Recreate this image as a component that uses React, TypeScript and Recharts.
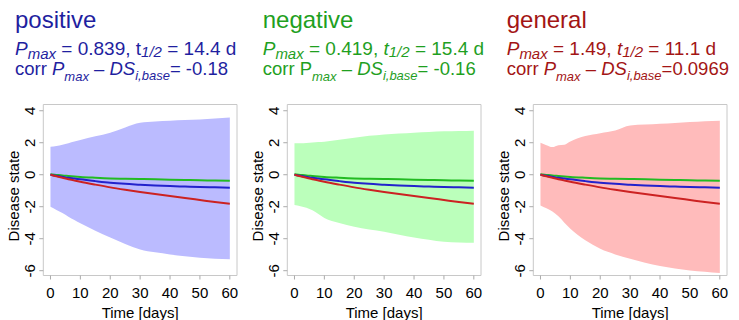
import React from "react";
import { ComposedChart, Area, Line, XAxis, YAxis, ReferenceArea, Label } from "recharts";

// shared time grid (days)
const days = [0, 2, 4, 6, 8, 10, 15, 20, 25, 30, 35, 40, 45, 50, 55, 60];

// mean trajectories, same in every panel
const greenLine = [0.03, -0.01, -0.05, -0.08, -0.11, -0.14, -0.19, -0.23, -0.25, -0.27, -0.29, -0.31, -0.33, -0.35, -0.36, -0.38];
const blueLine = [0, -0.07, -0.13, -0.19, -0.24, -0.29, -0.4, -0.5, -0.57, -0.62, -0.67, -0.71, -0.74, -0.77, -0.79, -0.81];
const redLine = [0, -0.1, -0.19, -0.28, -0.36, -0.44, -0.62, -0.79, -0.94, -1.08, -1.21, -1.33, -1.46, -1.58, -1.7, -1.81];

// bands
const positiveUpper = [1.75, 1.8, 1.88, 1.97, 2.07, 2.17, 2.4, 2.63, 2.96, 3.25, 3.33, 3.38, 3.42, 3.46, 3.52, 3.58];
const positiveLower = [-2.0, -2.2, -2.4, -2.62, -2.83, -3.04, -3.5, -3.92, -4.33, -4.67, -4.85, -4.98, -5.09, -5.19, -5.25, -5.29];
const negativeUpper = [1.96, 1.97, 1.99, 2.01, 2.04, 2.06, 2.18, 2.31, 2.43, 2.52, 2.58, 2.63, 2.67, 2.71, 2.73, 2.75];
const negativeLower = [-1.9, -1.97, -2.06, -2.22, -2.45, -2.7, -3.02, -3.25, -3.42, -3.56, -3.75, -3.92, -4.06, -4.19, -4.23, -4.25];
const generalUpper = [2.0, 1.85, 1.73, 1.85, 1.88, 2.08, 2.42, 2.6, 2.77, 3.08, 3.14, 3.19, 3.24, 3.29, 3.34, 3.38];
const generalLower = [-1.92, -2.1, -2.3, -2.6, -3.0, -3.38, -4.1, -4.63, -4.98, -5.25, -5.5, -5.71, -5.86, -5.98, -6.07, -6.15];

const xTicks = [0, 10, 20, 30, 40, 50, 60];
const yTicks = [-6, -4, -2, 0, 2, 4];

const FONT = "'Liberation Sans', Arial, Helvetica, sans-serif";
const X_DOMAIN: [number, number] = [-2.4, 62.4];
const Y_DOMAIN: [number, number] = [-6.3, 4.39];

const YTick = ({ x, y, payload }: any) => (
    <text x={x} y={y} transform={`rotate(-90 ${x} ${y})`} textAnchor="middle" fontSize={15} fill="#000" fontFamily={FONT}>
        {payload.value}
    </text>
);

function Panel({ left, upper, lower, band }: { left: number; upper: number[]; lower: number[]; band: string }) {
    const rows = days.map((d, i) => ({
        day: d,
        range: [lower[i], upper[i]],
        green: greenLine[i],
        blue: blueLine[i],
        red: redLine[i],
    }));

    return (
        <div style={{ position: "absolute", left, top: 0 }}>
            <ComposedChart width={245} height={320} data={rows} margin={{ top: 104.5, right: 8, bottom: 0, left: 0 }}>
                <XAxis
                    type="number"
                    dataKey="day"
                    domain={X_DOMAIN}
                    ticks={xTicks}
                    interval={0}
                    allowDataOverflow
                    height={44.5}
                    axisLine={false}
                    tickSize={4}
                    tickMargin={8}
                    tickLine={{ stroke: "#aaa" }}
                    tick={{ fontSize: 15, fill: "#000", fontFamily: FONT }}
                >
                    <Label
                        content={({ viewBox }: any) => (
                            <text x={viewBox.x + viewBox.width / 2} y={viewBox.y + 42} textAnchor="middle" fontSize={15} fontFamily={FONT} fill="#000">
                                Time [days]
                            </text>
                        )}
                    />
                </XAxis>
                <YAxis
                    type="number"
                    domain={Y_DOMAIN}
                    ticks={yTicks}
                    interval={0}
                    allowDataOverflow
                    width={43.3}
                    axisLine={false}
                    tickSize={4}
                    tickMargin={4}
                    tickLine={{ stroke: "#aaa" }}
                    tick={<YTick />}
                >
                    <Label
                        content={({ viewBox }: any) => {
                            const x = viewBox.x + 19;
                            const y = viewBox.y + viewBox.height / 2 + 6;
                            return (
                                <text x={x} y={y} transform={`rotate(-90 ${x} ${y})`} textAnchor="middle" fontSize={15} fontFamily={FONT} fill="#000">
                                    Disease state
                                </text>
                            );
                        }}
                    />
                </YAxis>
                <Area type="monotone" dataKey="range" fill={band} fillOpacity={1} stroke="none" isAnimationActive={false} dot={false} activeDot={false} />
                <Line type="monotone" dataKey="green" stroke="#22bb22" strokeWidth={2} dot={false} isAnimationActive={false} />
                <Line type="monotone" dataKey="blue" stroke="#2222cc" strokeWidth={2} dot={false} isAnimationActive={false} />
                <Line type="monotone" dataKey="red" stroke="#cc2222" strokeWidth={2} dot={false} isAnimationActive={false} />
                <ReferenceArea x1={X_DOMAIN[0]} x2={X_DOMAIN[1]} y1={Y_DOMAIN[0]} y2={Y_DOMAIN[1]} fill="none" stroke="#c8c8c8" strokeWidth={1} />
            </ComposedChart>
        </div>
    );
}

const MAIN = 19;
const SUB = 15;
const MAIN3 = 18.5;
const SUB3 = 13;

function Titles() {
    return (
        <svg width={739} height={90} style={{ position: "absolute", left: 0, top: 0 }} fontFamily={FONT}>
            {/* positive */}
            <g fill="#1f1fa0">
                <text x={15} y={28} fontSize={24}>positive</text>
                <text x={15} y={55} fontSize={MAIN}>
                    <tspan fontStyle="italic">P</tspan>
                    <tspan fontStyle="italic" fontSize={SUB} dy={4}>max</tspan>
                    <tspan dy={-4}> = 0.839, t</tspan>
                    <tspan fontStyle="italic" fontSize={SUB} dy={2}>1/2</tspan>
                    <tspan dy={-2}> = 14.4 d</tspan>
                </text>
                <text x={15} y={75} fontSize={MAIN3}>
                    <tspan>corr </tspan>
                    <tspan fontStyle="italic">P</tspan>
                    <tspan fontStyle="italic" fontSize={SUB3} dy={6}>max</tspan>
                    <tspan dy={-6}> – </tspan>
                    <tspan fontStyle="italic">DS</tspan>
                    <tspan fontStyle="italic" fontSize={SUB3} dy={5}>i,base</tspan>
                    <tspan dy={-5}>= -0.18</tspan>
                </text>
            </g>
            {/* negative */}
            <g fill="#1fa01f">
                <text x={262.7} y={28} fontSize={24}>negative</text>
                <text x={262.7} y={55} fontSize={MAIN}>
                    <tspan fontStyle="italic">P</tspan>
                    <tspan fontStyle="italic" fontSize={SUB} dy={4}>max</tspan>
                    <tspan dy={-4}> = 0.419, </tspan>
                    <tspan fontStyle="italic">t</tspan>
                    <tspan fontStyle="italic" fontSize={SUB} dy={2}>1/2</tspan>
                    <tspan dy={-2}> = 15.4 d</tspan>
                </text>
                <text x={262.7} y={75} fontSize={MAIN3}>
                    <tspan>corr P</tspan>
                    <tspan fontStyle="italic" fontSize={SUB3} dy={6}>max</tspan>
                    <tspan dy={-6}> – </tspan>
                    <tspan fontStyle="italic">DS</tspan>
                    <tspan fontStyle="italic" fontSize={SUB3} dy={5}>i,base</tspan>
                    <tspan dy={-5}>= -0.16</tspan>
                </text>
            </g>
            {/* general */}
            <g fill="#a31515">
                <text x={506.7} y={28} fontSize={24}>general</text>
                <text x={506.7} y={55} fontSize={MAIN}>
                    <tspan fontStyle="italic">P</tspan>
                    <tspan fontStyle="italic" fontSize={SUB} dy={4}>max</tspan>
                    <tspan dy={-4}> = 1.49, </tspan>
                    <tspan fontStyle="italic">t</tspan>
                    <tspan fontStyle="italic" fontSize={SUB} dy={2}>1/2</tspan>
                    <tspan dy={-2}> = 11.1 d</tspan>
                </text>
                <text x={506.7} y={75} fontSize={MAIN3}>
                    <tspan>corr </tspan>
                    <tspan fontStyle="italic">P</tspan>
                    <tspan fontStyle="italic" fontSize={SUB3} dy={6}>max</tspan>
                    <tspan dy={-6}> – </tspan>
                    <tspan fontStyle="italic">DS</tspan>
                    <tspan fontStyle="italic" fontSize={SUB3} dy={5}>i,base</tspan>
                    <tspan dy={-5}>=0.0969</tspan>
                </text>
            </g>
        </svg>
    );
}

export default function App() {
    return (
        <div style={{ position: "absolute", left: 0, top: 0, width: 739, height: 320, background: "#fff", overflow: "hidden" }}>
            <Panel left={0} upper={positiveUpper} lower={positiveLower} band="#bbbbff" />
            <Panel left={244} upper={negativeUpper} lower={negativeLower} band="#bbffbb" />
            <Panel left={490} upper={generalUpper} lower={generalLower} band="#ffbbbb" />
            <Titles />
        </div>
    );
}
